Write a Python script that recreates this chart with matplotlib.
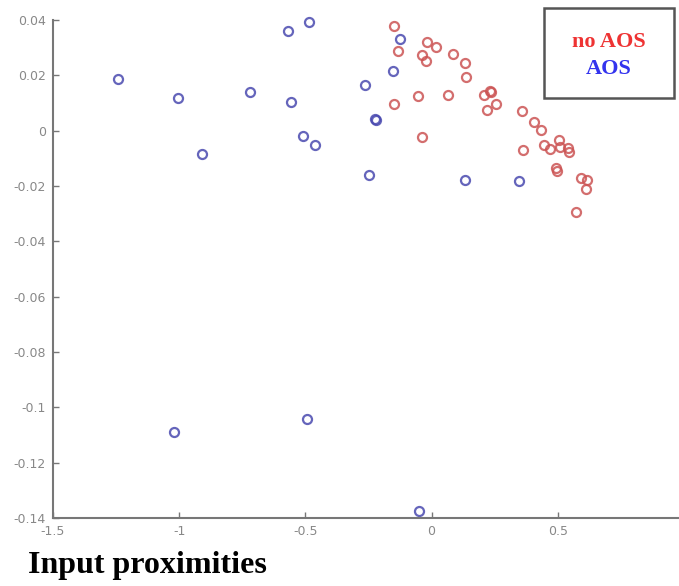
import matplotlib
matplotlib.use("Agg")
import matplotlib.pyplot as plt

plt.rcParams['axes.unicode_minus'] = False

red_x = [-0.147, -0.134, -0.020, 0.016, -0.039, -0.024, 0.084, 0.131, 0.135, -0.148,
         -0.053, 0.066, -0.037, 0.209, 0.232, 0.235, 0.255, 0.219, 0.357, 0.404,
         0.432, 0.506, 0.445, 0.469, 0.508, 0.539, 0.543, 0.363, 0.492, 0.496,
         0.593, 0.617, 0.610, 0.572]
red_y = [0.0378, 0.0288, 0.0319, 0.0302, 0.0274, 0.0253, 0.0278, 0.0245, 0.0194, 0.0098,
         0.0124, 0.0130, -0.0024, 0.0129, 0.0143, 0.0138, 0.0098, 0.0075, 0.0070, 0.0033,
         0.0003, -0.0033, -0.0052, -0.0067, -0.0060, -0.0063, -0.0077, -0.0071, -0.0136, -0.0145,
         -0.0171, -0.0177, -0.0211, -0.0294]

blue_x = [-1.244, -1.004, -0.908, -0.719, -0.567, -0.484, -0.559, -0.509, -0.463, -0.127,
          -0.152, -0.263, -0.224, -0.221, -0.249, 0.134, 0.348, -1.020, -0.495, -0.048]
blue_y = [0.0187, 0.0117, -0.0084, 0.0139, 0.0361, 0.0393, 0.0103, -0.0019, -0.0052, 0.0331,
          0.0215, 0.0166, 0.0042, 0.0040, -0.0161, -0.0179, -0.0183, -0.1089, -0.1041, -0.1373]

x_ticks = [-1.5, -1.0, -0.5, 0.0, 0.5]
x_ticklabels = ["-1.5", "-1", "-0.5", "0", "0.5"]
y_ticks = [0.04, 0.02, 0.0, -0.02, -0.04, -0.06, -0.08, -0.1, -0.12, -0.14]
y_ticklabels = ["0.04", "0.02", "0", "-0.02", "-0.04", "-0.06", "-0.08", "-0.1", "-0.12", "-0.14"]

legend_labels = ["no AOS", "AOS"]
title_text = "Input proximities"

W, H = 679, 586
fig = plt.figure(figsize=(W / 100, H / 100), dpi=100)
ax = fig.add_axes([53 / W, 68 / H, (684 - 53) / W, 498 / H])

red_c = "#cc5555"
blue_c = "#4a4ab0"
ax.plot(red_x, red_y, linestyle="none", marker="o", markersize=6.5, markerfacecolor="none",
        markeredgecolor=red_c, markeredgewidth=1.6, alpha=0.85, clip_on=False)
ax.plot(blue_x, blue_y, linestyle="none", marker="o", markersize=6.5, markerfacecolor="none",
        markeredgecolor=blue_c, markeredgewidth=1.6, alpha=0.85, clip_on=False)

ax.set_xlim(-1.5, 1.0)
ax.set_ylim(-0.14, 0.04)
ax.set_xticks(x_ticks)
ax.set_xticklabels(x_ticklabels)
ax.set_yticks(y_ticks)
ax.set_yticklabels(y_ticklabels)

for s in ["top", "right"]:
    ax.spines[s].set_visible(False)
for s in ["left", "bottom"]:
    ax.spines[s].set_color("#777777")
    ax.spines[s].set_linewidth(1.5)
ax.tick_params(direction="in", length=4, width=1, colors="#777777", labelsize=9,
               labelcolor="#888888", pad=5)

# legend-like box
lx0, lx1, ly0, ly1 = 544, 674, 8, 98
fig.patches.append(plt.Rectangle((lx0 / W, 1 - ly1 / H), (lx1 - lx0) / W, (ly1 - ly0) / H,
                                 transform=fig.transFigure, fill=True, facecolor="white",
                                 edgecolor="#555555", linewidth=1.8))
fig.text(609 / W, 1 - 42 / H, legend_labels[0], color="#ee3333", fontsize=16,
         fontweight="bold", family="Liberation Serif", ha="center", va="center")
fig.text(609 / W, 1 - 69 / H, legend_labels[1], color="#3333ee", fontsize=16,
         fontweight="bold", family="Liberation Serif", ha="center", va="center")

fig.text(28 / W, 1 - 566 / H, title_text, color="black", fontsize=23, fontweight="bold",
         family="Liberation Serif", ha="left", va="center")

fig.savefig("out.png", dpi=100)
